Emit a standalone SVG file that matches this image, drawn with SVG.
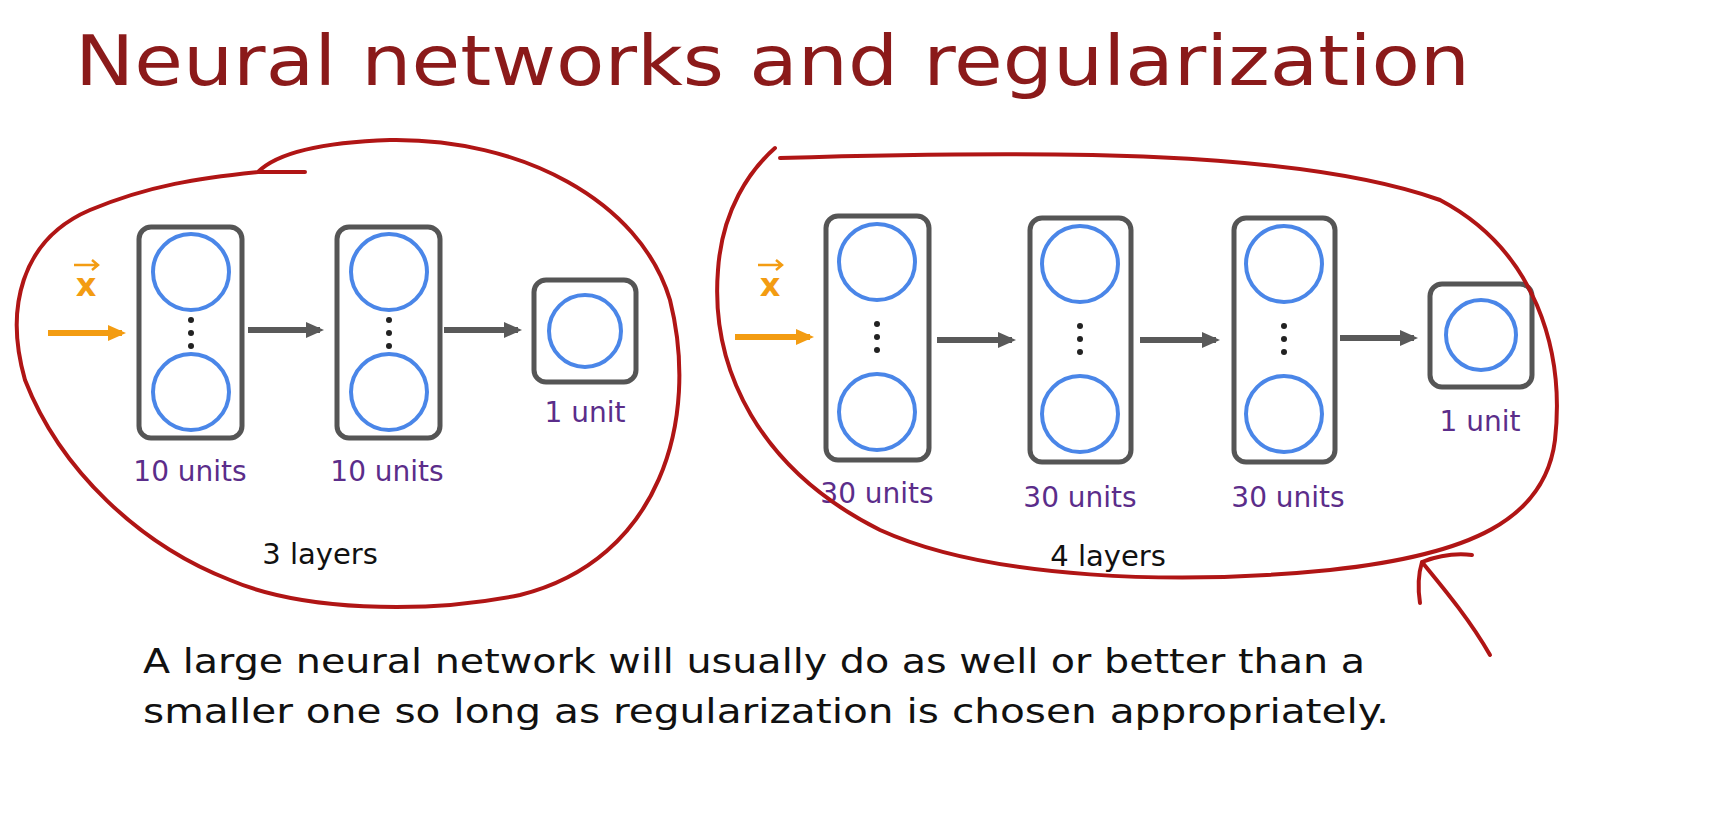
<svg xmlns="http://www.w3.org/2000/svg" width="1711" height="817" viewBox="0 0 1711 817">
<defs>
<marker id="ga" markerWidth="20" markerHeight="20" refX="14" refY="10" orient="auto" markerUnits="userSpaceOnUse" viewBox="0 0 20 20"><path d="M0,2 L18,10 L0,18 z" fill="#595959"/></marker>
<marker id="oa" markerWidth="20" markerHeight="20" refX="14" refY="10" orient="auto" markerUnits="userSpaceOnUse" viewBox="0 0 20 20"><path d="M0,2 L18,10 L0,18 z" fill="#f39c12"/></marker>
</defs>
<style>
.box{fill:#fff;stroke:#555;stroke-width:5}
.c{fill:none;stroke:#4a86e8;stroke-width:4}
.lbl{font-family:"DejaVu Sans",Verdana,sans-serif;font-size:28px;fill:#5b2d8a;text-anchor:middle}
.lay{font-family:"DejaVu Sans",Verdana,sans-serif;font-size:29px;fill:#111;text-anchor:middle}
.red{fill:none;stroke:#b01515;stroke-width:4;stroke-linecap:round}
.g{stroke:#595959;stroke-width:6}
.o{stroke:#f39c12;stroke-width:6}
.xv{font-family:"DejaVu Sans",sans-serif;font-size:32px;fill:#f39c12;text-anchor:middle;font-weight:bold}
.dot{fill:#222}
</style>
<rect width="1711" height="817" fill="#fff"/>
<text x="75" y="85" font-family="DejaVu Sans,Verdana,sans-serif" font-size="70" fill="#8b1a1a" textLength="1395" lengthAdjust="spacingAndGlyphs">Neural networks and regularization</text>
<g id="n1a"><rect class="box" x="139" y="227" width="103" height="211" rx="12"/><circle class="c" cx="191" cy="272" r="38"/><circle class="c" cx="191" cy="392" r="38"/><circle class="dot" cx="191" cy="320" r="3"/><circle class="dot" cx="191" cy="333" r="3"/><circle class="dot" cx="191" cy="346" r="3"/><text class="lbl" x="190" y="481">10 units</text></g>
<g id="n1b"><rect class="box" x="337" y="227" width="103" height="211" rx="12"/><circle class="c" cx="389" cy="272" r="38"/><circle class="c" cx="389" cy="392" r="38"/><circle class="dot" cx="389" cy="320" r="3"/><circle class="dot" cx="389" cy="333" r="3"/><circle class="dot" cx="389" cy="346" r="3"/><text class="lbl" x="387" y="481">10 units</text></g>
<g id="n1c"><rect class="box" x="534" y="280" width="102" height="102" rx="12"/><circle class="c" cx="585" cy="331" r="36"/><text class="lbl" x="585" y="422">1 unit</text></g>
<g id="x1"><text class="xv" x="86" y="296">x</text><path d="M74,265 H98 M92,260 L98,265 L92,270" stroke="#f39c12" stroke-width="2.5" fill="none"/></g>
<g id="n2a"><rect class="box" x="826" y="216" width="103" height="244" rx="12"/><circle class="c" cx="877" cy="262" r="38"/><circle class="c" cx="877" cy="412" r="38"/><circle class="dot" cx="877" cy="324" r="3"/><circle class="dot" cx="877" cy="337" r="3"/><circle class="dot" cx="877" cy="350" r="3"/><text class="lbl" x="877" y="503">30 units</text></g>
<g id="n2b"><rect class="box" x="1030" y="218" width="101" height="244" rx="12"/><circle class="c" cx="1080" cy="264" r="38"/><circle class="c" cx="1080" cy="414" r="38"/><circle class="dot" cx="1080" cy="326" r="3"/><circle class="dot" cx="1080" cy="339" r="3"/><circle class="dot" cx="1080" cy="352" r="3"/><text class="lbl" x="1080" y="507">30 units</text></g>
<g id="n2c"><rect class="box" x="1234" y="218" width="101" height="244" rx="12"/><circle class="c" cx="1284" cy="264" r="38"/><circle class="c" cx="1284" cy="414" r="38"/><circle class="dot" cx="1284" cy="326" r="3"/><circle class="dot" cx="1284" cy="339" r="3"/><circle class="dot" cx="1284" cy="352" r="3"/><text class="lbl" x="1288" y="507">30 units</text></g>
<g id="n2d"><rect class="box" x="1430" y="284" width="102" height="103" rx="12"/><circle class="c" cx="1481" cy="335" r="35"/><text class="lbl" x="1480" y="431">1 unit</text></g>
<g id="x2"><text class="xv" x="770" y="296">x</text><path d="M758,265 H782 M776,260 L782,265 L776,270" stroke="#f39c12" stroke-width="2.5" fill="none"/></g>
<g id="connectors">
<line class="o" x1="48" y1="333" x2="122" y2="333" marker-end="url(#oa)"/>
<line class="g" x1="248" y1="330" x2="320" y2="330" marker-end="url(#ga)"/>
<line class="g" x1="444" y1="330" x2="518" y2="330" marker-end="url(#ga)"/>
<line class="o" x1="735" y1="337" x2="810" y2="337" marker-end="url(#oa)"/>
<line class="g" x1="937" y1="340" x2="1012" y2="340" marker-end="url(#ga)"/>
<line class="g" x1="1140" y1="340" x2="1216" y2="340" marker-end="url(#ga)"/>
<line class="g" x1="1340" y1="338" x2="1414" y2="338" marker-end="url(#ga)"/>
</g>
<text class="lay" x="320" y="564">3 layers</text>
<text class="lay" x="1108" y="566">4 layers</text>
<g id="annotations">
<path class="red" d="M305,172 L258,172 C280,150 330,142 390,140 C520,138 640,200 670,300 C700,420 660,560 520,595 C420,615 300,610 230,580 C140,545 60,470 25,380 C5,310 20,240 90,210 C150,185 200,178 258,172"/>
<path class="red" d="M775,148 C750,170 722,210 718,270 C710,370 760,470 880,530 C990,580 1180,585 1330,570 C1470,555 1545,520 1555,440 C1565,350 1535,250 1440,200 C1300,150 1050,150 780,158"/>
<path class="red" d="M1490,655 C1470,620 1445,590 1422,562 M1422,562 C1418,575 1418,590 1420,603 M1422,562 C1440,555 1455,553 1472,555"/>
</g>
<g font-family="DejaVu Sans,Verdana,sans-serif" font-size="33" fill="#111">
<text x="143" y="673" textLength="1222" lengthAdjust="spacingAndGlyphs">A large neural network will usually do as well or better than a</text>
<text x="143" y="723" textLength="1246" lengthAdjust="spacingAndGlyphs">smaller one so long as regularization is chosen appropriately.</text>
</g>
</svg>
